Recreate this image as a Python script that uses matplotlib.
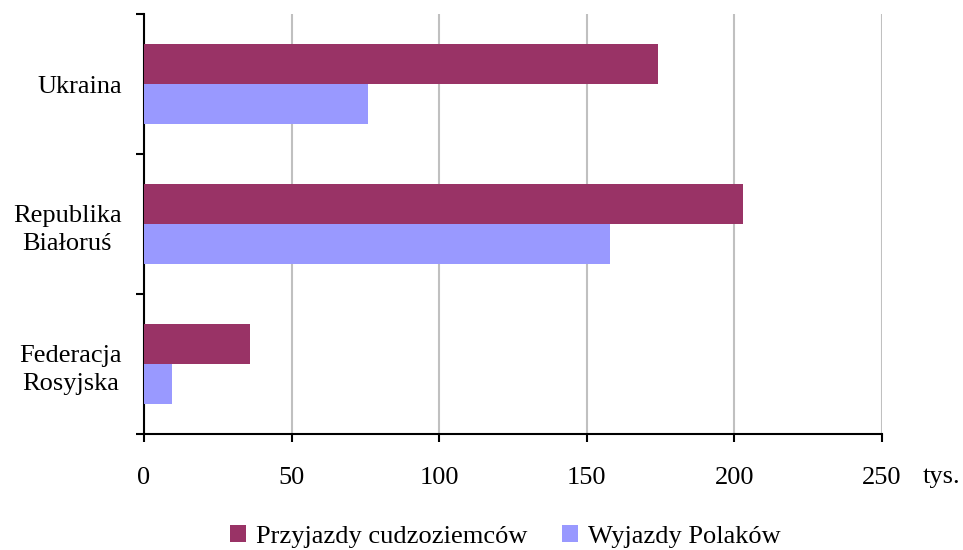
import matplotlib
matplotlib.use("Agg")
import matplotlib.pyplot as plt
import numpy as np

categories = ["Ukraina", "Republika\nBiałoruś", "Federacja\nRosyjska"]
przyjazdy = [174, 203, 36]
wyjazdy = [76, 158, 9.5]
series_names = ["Przyjazdy cudzoziemców", "Wyjazdy Polaków"]
xticks = [0, 50, 100, 150, 200, 250]

plt.rcParams['font.family'] = ['Liberation Serif', 'DejaVu Serif']
plt.rcParams['font.size'] = 19

fig = plt.figure(figsize=(9.63, 5.5), dpi=100)
ax = fig.add_axes([144/963, 1-434/550, (882-144)/963, (434-14)/550])

y = np.arange(len(categories))
h = 0.2857
ax.barh(y - h/2, przyjazdy, height=h, color="#993366", label=series_names[0], zorder=3)
ax.barh(y + h/2, wyjazdy, height=h, color="#9999FF", label=series_names[1], zorder=3)

ax.set_xlim(0, 250)
ax.set_ylim(len(categories) - 0.5, -0.5)
ax.set_xticks(xticks)
ax.set_xticklabels([str(t) for t in xticks])
ax.set_yticks(y)
ax.set_yticklabels(categories)
for lbl in ax.get_yticklabels():
    lbl.set_multialignment('center')
    lbl.set_linespacing(1.4)
ax.set_yticks(np.arange(-0.5, len(categories), 1.0), minor=True)
ax.tick_params(axis='y', which='major', length=0, pad=16)
ax.tick_params(axis='y', which='minor', length=6, width=1.5, direction='out')
ax.tick_params(axis='x', which='major', length=6, width=1.5, direction='out', pad=18)

ax.grid(axis='x', color='#c0c0c0', linewidth=1.5, zorder=0)
ax.set_axisbelow(True)
for s in ['top', 'right']:
    ax.spines[s].set_visible(False)
for s in ['left', 'bottom']:
    ax.spines[s].set_linewidth(1.5)

fig.text(942/963, 1-477/550, "tys.", ha='center', va='center', fontsize=19)

fig.legend(loc='center', bbox_to_anchor=(0.525, 0.025), ncol=2, frameon=False,
           handlelength=0.6, handleheight=0.6, handletextpad=0.4, columnspacing=1.3,
           fontsize=19)

fig.savefig("out.png", dpi=100)
